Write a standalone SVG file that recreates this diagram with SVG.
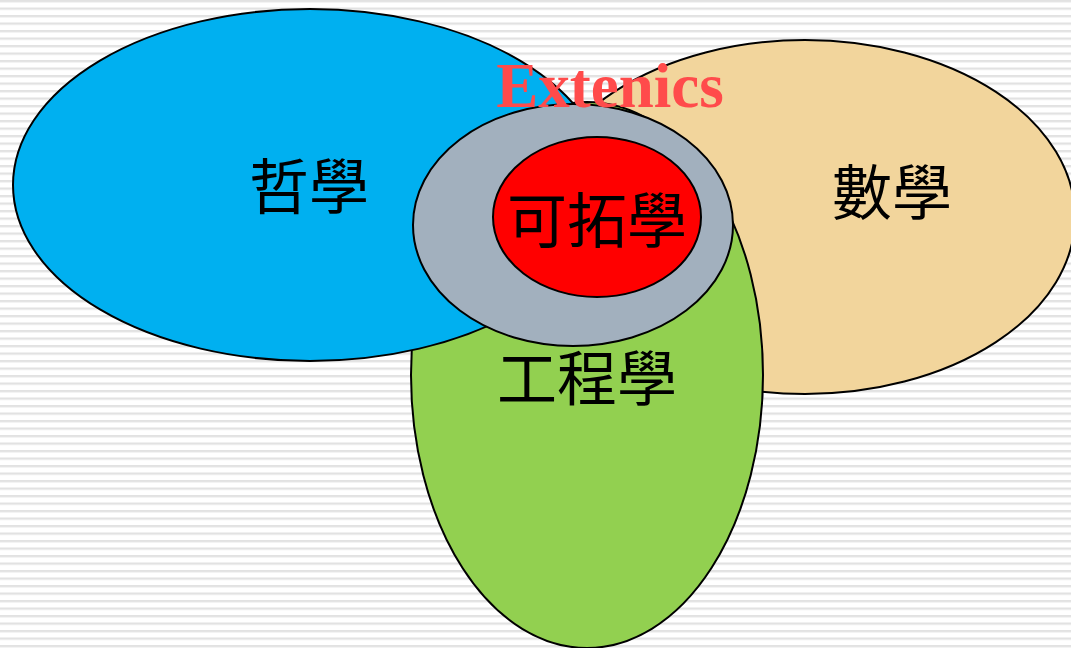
<svg xmlns="http://www.w3.org/2000/svg" width="1071" height="648" viewBox="0 0 1071 648">
  <defs>
    <pattern id="stripes" x="0" y="0" width="8" height="7.5" patternUnits="userSpaceOnUse">
      <rect x="0" y="0" width="8" height="7.5" fill="#ffffff"/>
      <rect x="0" y="0" width="8" height="2" fill="#e2e2e2"/>
      <rect x="0" y="2" width="8" height="0.8" fill="#f0f0f0"/>
    </pattern>
  </defs>
  <style>
    .shape { stroke: #000000; stroke-width: 2; }
    .label { font-family: "Liberation Serif", "Noto Sans CJK TC", serif; font-size: 60px; fill: #000000; text-anchor: middle; }
    .title { font-family: "Liberation Serif", serif; font-weight: bold; font-size: 63px; fill: #ff4b4b; text-anchor: middle; }
  </style>
  <rect x="0" y="0" width="1071" height="648" fill="url(#stripes)"/>
  <g id="math">
    <ellipse class="shape" cx="805" cy="217" rx="270" ry="177" fill="#f2d59c"/>
    <text class="label" x="892" y="215">數學</text>
  </g>
  <g id="engineering">
    <ellipse class="shape" cx="587" cy="375" rx="176" ry="273" fill="#92d050"/>
  </g>
  <g id="philosophy">
    <ellipse class="shape" cx="310" cy="185" rx="297" ry="176" fill="#00b0f0"/>
    <text class="label" x="309" y="209">哲學</text>
  </g>
  <g id="extenics-ring">
    <ellipse class="shape" cx="573" cy="225" rx="160" ry="121" fill="#a2b0be"/>
  </g>
  <g id="extenics-core">
    <ellipse class="shape" cx="597" cy="217" rx="104" ry="80" fill="#ff0000"/>
    <text class="label" x="597" y="243">可拓學</text>
  </g>
  <g id="engineering-label">
    <text class="label" x="587" y="401">工程學</text>
  </g>
  <g id="extenics-title">
    <text class="title" x="610" y="107">Extenics</text>
  </g>
  <g id="connectors"></g>
</svg>
